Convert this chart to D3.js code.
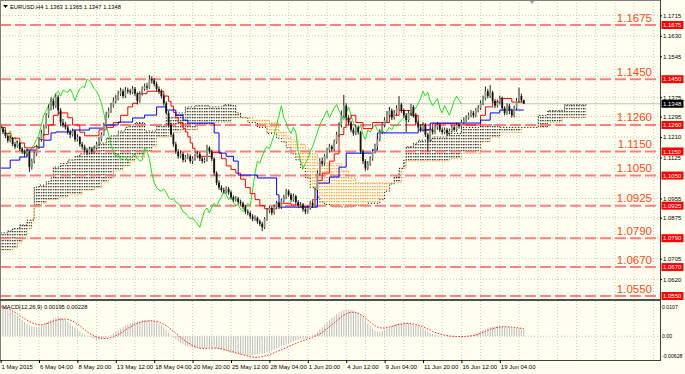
<!DOCTYPE html>
<html>
<head>
<meta charset="utf-8">
<script src="https://cdn.jsdelivr.net/npm/d3@7"></script>
<style>
  body { margin: 0; background: #fffff0; }
  svg text { font-family: "Liberation Sans", Arial, sans-serif; }
</style>
</head>
<body>
<svg id="chart" width="685" height="374"></svg>
<script>
// EURUSD H4, 1 May 2015 12:00 -> 22 Jun 2015 20:00. Prices in 1e-4 units.
const firstBar = 3; // bar index of candles[0]

// [open, high, low, close]
const candles = [
  [11255,11268,11236,11245],[11245,11252,11222,11230],[11230,11238,11205,11215],[11215,11220,11186,11195],
  [11195,11214,11188,11205],[11205,11210,11172,11180],[11180,11190,11160,11170],[11170,11195,11165,11185],
  [11185,11190,11152,11160],[11160,11168,11140,11150],[11150,11158,11128,11140],[11140,11162,11132,11150],
  [11150,11155,11065,11085],[11085,11120,11075,11110],[11110,11150,11100,11140],[11140,11178,11132,11170],
  [11170,11210,11160,11200],[11200,11240,11190,11225],[11225,11262,11215,11250],[11250,11310,11245,11300],
  [11300,11345,11290,11330],[11330,11375,11320,11360],[11360,11370,11325,11340],[11340,11390,11330,11375],
  [11375,11385,11305,11320],[11320,11330,11255,11270],[11270,11285,11250,11260],[11260,11272,11240,11250],
  [11250,11258,11220,11230],[11230,11240,11205,11220],[11220,11245,11212,11235],[11235,11240,11190,11200],
  [11200,11222,11192,11210],[11210,11215,11170,11180],[11180,11190,11158,11170],[11170,11178,11145,11155],
  [11155,11165,11135,11145],[11145,11170,11138,11160],[11160,11168,11140,11150],[11150,11175,11142,11165],
  [11165,11190,11158,11180],[11180,11210,11172,11200],[11200,11230,11192,11220],[11220,11270,11215,11260],
  [11260,11315,11252,11300],[11300,11332,11290,11320],[11320,11352,11310,11340],[11340,11375,11332,11360],
  [11360,11385,11350,11370],[11370,11402,11362,11390],[11390,11415,11380,11400],[11400,11410,11370,11380],
  [11380,11418,11372,11405],[11405,11415,11390,11400],[11400,11410,11385,11395],[11395,11422,11388,11410],
  [11410,11418,11380,11390],[11390,11395,11345,11360],[11360,11400,11352,11390],[11390,11420,11382,11410],
  [11410,11432,11402,11420],[11420,11435,11405,11415],[11415,11467,11410,11450],[11450,11462,11432,11445],
  [11445,11455,11420,11430],[11430,11440,11400,11410],[11410,11420,11388,11400],[11400,11408,11370,11380],
  [11380,11388,11340,11350],[11350,11358,11300,11310],[11310,11318,11250,11260],[11260,11270,11210,11220],
  [11220,11228,11170,11180],[11180,11190,11140,11150],[11150,11160,11120,11130],[11130,11155,11122,11140],
  [11140,11148,11105,11115],[11115,11135,11105,11125],[11125,11142,11118,11130],[11130,11138,11100,11110],
  [11110,11130,11098,11120],[11120,11140,11112,11130],[11130,11152,11122,11140],[11140,11148,11110,11120],
  [11120,11128,11100,11110],[11110,11125,11102,11115],[11115,11178,11108,11165],[11165,11172,11140,11150],
  [11150,11158,11110,11120],[11120,11125,11050,11060],[11060,11068,11010,11020],[11020,11030,10990,11000],
  [11000,11010,10980,10990],[10990,11000,10975,10985],[10985,11005,10975,10995],[10995,11002,10970,10980],
  [10980,10988,10950,10960],[10960,10968,10940,10950],[10950,10965,10942,10955],[10955,10962,10930,10940],
  [10940,10950,10925,10935],[10935,10942,10910,10920],[10920,10928,10890,10900],[10900,10910,10885,10895],
  [10895,10902,10870,10880],[10880,10890,10860,10870],[10870,10885,10862,10875],[10875,10880,10850,10860],
  [10860,10868,10840,10850],[10850,10858,10819,10835],[10835,10878,10828,10870],[10870,10915,10862,10905],
  [10905,10925,10895,10915],[10915,10922,10885,10895],[10895,10930,10888,10920],[10920,10945,10912,10935],
  [10935,10942,10910,10920],[10920,10955,10912,10945],[10945,10970,10938,10960],[10960,10995,10952,10985],
  [10985,10992,10962,10970],[10970,10978,10940,10950],[10950,10975,10942,10965],[10965,10970,10930,10940],
  [10940,10948,10915,10925],[10925,10940,10918,10930],[10930,10936,10900,10910],[10910,10918,10890,10900],
  [10900,10925,10892,10915],[10915,10945,10908,10935],[10935,10942,10915,10925],[10925,11000,10920,10990],
  [10990,11072,10982,11060],[11060,11122,11050,11110],[11110,11125,11088,11100],[11100,11140,11092,11130],
  [11130,11165,11120,11155],[11155,11182,11145,11170],[11170,11178,11150,11160],[11160,11200,11152,11190],
  [11190,11232,11182,11220],[11220,11272,11210,11260],[11260,11320,11250,11300],[11300,11385,11290,11340],
  [11340,11350,11280,11290],[11290,11300,11258,11270],[11270,11278,11230,11240],[11240,11250,11215,11225],
  [11225,11260,11218,11250],[11250,11258,11220,11230],[11230,11235,11140,11150],[11150,11158,11098,11110],
  [11110,11118,11070,11080],[11080,11110,11072,11100],[11100,11130,11090,11120],[11120,11160,11112,11150],
  [11150,11182,11142,11170],[11170,11212,11162,11200],[11200,11242,11192,11230],[11230,11272,11222,11260],
  [11260,11292,11250,11280],[11280,11318,11270,11300],[11300,11335,11292,11320],[11320,11328,11280,11290],
  [11290,11322,11282,11310],[11310,11342,11300,11330],[11330,11380,11322,11345],[11345,11352,11310,11320],
  [11320,11328,11290,11300],[11300,11310,11230,11280],[11280,11322,11272,11310],[11310,11348,11300,11335],
  [11335,11342,11290,11300],[11300,11310,11260,11270],[11270,11278,11240,11250],[11250,11262,11230,11240],
  [11240,11272,11232,11260],[11260,11268,11210,11220],[11220,11228,11150,11200],[11200,11250,11190,11240],
  [11240,11250,11220,11230],[11230,11262,11222,11250],[11250,11272,11240,11260],[11260,11268,11230,11240],
  [11240,11250,11220,11230],[11230,11250,11222,11240],[11240,11248,11215,11225],[11225,11245,11218,11235],
  [11235,11260,11228,11250],[11250,11258,11232,11240],[11240,11270,11232,11260],[11260,11268,11245,11255],
  [11255,11282,11248,11270],[11270,11292,11262,11280],[11280,11300,11272,11290],[11290,11312,11282,11300],
  [11300,11322,11292,11310],[11310,11318,11290,11300],[11300,11330,11292,11320],[11320,11342,11312,11330],
  [11330,11362,11322,11350],[11350,11382,11342,11370],[11370,11420,11362,11400],[11400,11410,11370,11380],
  [11380,11425,11372,11395],[11395,11402,11350,11360],[11360,11368,11330,11340],[11340,11365,11332,11355],
  [11355,11382,11345,11370],[11370,11378,11320,11330],[11330,11338,11300,11310],[11310,11350,11302,11340],
  [11340,11348,11305,11320],[11320,11328,11290,11300],[11300,11340,11292,11330],[11330,11372,11322,11360],
  [11360,11415,11352,11380],[11380,11390,11355,11363],[11363,11365,11347,11348]
];

// Ichimoku lines: [bar index, value] steps
const tenkan = [[3,11250],[5,11225],[7,11205],[11,11185],[13,11165],[17,11170],[19,11200],[21,11220],[23,11260],[25,11300],
  [27,11310],[31,11290],[33,11260],[36,11230],[38,11215],[44,11240],[47,11250],[50,11270],[53,11300],[56,11335],[58,11350],
  [60,11390],[64,11400],[71,11380],[73,11358],[74,11338],[75,11312],[76,11290],[77,11270],[79,11246],[80,11231],[81,11211],
  [82,11185],[83,11163],[84,11144],[85,11130],[91,11145],[95,11120],[97,11090],[99,11075],[101,11060],[103,11035],[105,11000],
  [107,10975],[109,10950],[111,10925],[113,10912],[118,10935],[124,10928],[128,10920],[133,10950],[135,11030],[137,11060],
  [140,11110],[142,11140],[144,11220],[146,11250],[147,11285],[149,11300],[151,11270],[154,11245],[158,11270],[165,11300],
  [169,11320],[174,11300],[177,11260],[180,11240],[183,11265],[194,11260],[203,11300],[205,11335],[208,11355],[211,11370],
  [216,11355],[221,11355]];
const kijun = [[3,11081],[7,11114],[11,11127],[14,11156],[18,11168],[21,11197],[24,11227],[26,11231],[33,11239],[40,11247],
  [46,11260],[52,11272],[58,11289],[63,11301],[68,11335],[72,11322],[76,11300],[79,11280],[81,11268],[92,11227],[94,11143],
  [97,11130],[100,11110],[102,11052],[110,11040],[118,10970],[119,10919],[135,11019],[140,11044],[144,11085],[147,11143],
  [158,11156],[160,11227],[177,11239],[182,11268],[203,11280],[207,11310],[211,11322],[221,11322]];
const spanA = [[3,10812],[6,10820],[8,10830],[11,10845],[14,10865],[17,11002],[19,11010],[22,11025],[24,11040],[25,11085],
  [28,11100],[31,11115],[34,11130],[36,11140],[40,11165],[44,11185],[47,11205],[49,11215],[52,11235],[55,11250],[56,11260],
  [59,11270],[63,11235],[68,11260],[72,11290],[76,11310],[80,11335],[84,11340],[90,11335],[96,11345],[99,11340],[101,11310],
  [103,11290],[106,11270],[110,11250],[114,11225],[118,11205],[120,11190],[122,11165],[124,11140],[126,11115],[128,11080],
  [130,11040],[132,11000],[134,10960],[136,10940],[138,10930],[141,10920],[150,10925],[156,10935],[161,10950],[163,10985],
  [165,11015],[167,11044],[169,11080],[171,11114],[172,11170],[175,11185],[177,11197],[183,11210],[189,11225],[195,11250],
  [203,11260],[211,11250],[227,11300],[231,11320],[238,11345],[247,11345]];
const spanB = [[3,10741],[8,10750],[10,10770],[12,10800],[14,10830],[16,10870],[17,10920],[20,10935],[22,10950],[27,10960],
  [31,10970],[37,10990],[42,11000],[45,11020],[48,11040],[50,11070],[54,11090],[57,11110],[59,11130],[63,11150],[66,11170],
  [68,11210],[73,11230],[78,11240],[85,11260],[92,11270],[99,11290],[108,11280],[115,11270],[119,11230],[122,11210],
  [124,11200],[127,11180],[130,11160],[133,11140],[135,11100],[145,11070],[148,11040],[151,11020],[170,11080],[172,11110],
  [190,11120],[195,11143],[203,11190],[207,11210],[211,11230],[220,11250],[231,11270],[237,11290],[247,11290]];

// MACD(12,26,9), 1e-4 units, one value per candle
const macdMain = [89,87,84,82,79,74,68,62,55,49,43,38,33,30,28,28,29,32,36,41,46,50,54,57,58,57,54,49,44,38,32,26,20,14,
  9,5,1,-2,-5,-8,-10,-11,-10,-8,-5,-1,3,8,13,18,23,28,32,36,39,42,44,46,47,48,49,49,48,48,46,43,39,34,27,19,11,3,
  -4,-10,-16,-21,-25,-28,-31,-33,-35,-36,-37,-37,-37,-36,-35,-34,-34,-35,-37,-39,-41,-43,-45,-47,-49,
  -51,-52,-54,-55,-56,-57,-58,-58,-57,-56,-55,-54,-53,-52,-49,-46,-43,-40,-37,-34,-31,-28,-25,-22,-19,
  -16,-13,-11,-9,-8,-6,-4,-1,3,8,14,21,28,35,42,49,55,61,67,72,76,79,81,81,80,78,75,72,66,58,48,38,30,
  22,17,14,14,16,19,23,27,31,34,37,39,40,40,40,39,37,35,33,30,27,23,18,14,10,7,5,3,
  2,1,0,-1,-2,-2,-3,-3,-2,-2,-1,0,2,4,6,9,12,15,18,21,24,27,29,30,31,31,30,29,28,27,26,25,24,23,21,19.5];
const macdSignal = [90,88,86,84,81,77,73,68,63,58,53,49,45,41,38,36,35,35,36,38,40,43,46,48,50,51,52,52,51,49,46,42,37,32,
  26,20,14,9,5,1,-2,-4,-6,-7,-7,-6,-4,-2,1,5,9,14,19,24,28,32,36,39,42,44,45,46,47,47,46,45,43,40,36,32,27,21,
  15,9,3,-3,-9,-14,-19,-24,-28,-31,-34,-36,-37,-37,-37,-36,-36,-36,-36,-37,-38,-40,-42,-44,-46,
  -48,-50,-52,-54,-56,-58,-60,-62,-63,-64,-64,-63,-62,-60,-58,-56,-53,-50,-47,-44,-41,-38,-35,-31,-28,
  -25,-22,-19,-16,-13,-11,-8,-6,-3,0,3,7,12,17,23,29,35,41,47,53,59,64,68,71,73,73,72,70,66,61,55,49,43,
  37,32,28,26,25,25,26,28,30,32,34,36,37,38,39,39,38,37,35,33,31,28,25,22,19,15,12,9,
  7,5,3,2,1,0,0,-1,-1,-1,-1,0,0,1,2,4,6,9,12,15,18,21,23,25,27,28,29,29,29,28,28,27,26,25,24,22.8];

const dateBars = [3,19,35,51,67,83,99,115,131,147,163,179,195,211];
const dateLabels = ["1 May 2015","6 May 04:00","8 May 20:00","13 May 12:00","18 May 04:00","20 May 20:00","25 May 12:00",
  "28 May 04:00","1 Jun 20:00","4 Jun 12:00","9 Jun 04:00","11 Jun 20:00","16 Jun 12:00","19 Jun 04:00"];
const gridPrices = [1.1715,1.1630,1.1545,1.1460,1.1375,1.1295,1.1210,1.1125,1.1040,1.0955,1.0875,1.0790,1.0705,1.0620,1.0535];
const priceTicks = [1.1715,1.1630,1.1545,1.1375,1.1295,1.1210,1.1125,1.0955,1.0875,1.0705,1.0620]; // the rest sit under the red tags
const levels = [1.1675,1.1450,1.1260,1.1150,1.1050,1.0925,1.0790,1.0670,1.0550];
const bid = 1.1348;

const svg = d3.select("#chart");
const W = 685, H = 374;
const plotR = 660, priceBottom = 299, macdTop = 301, macdBottom = 360;

svg.append("rect").attr("width", W).attr("height", H).attr("fill", "#fffff0");

const x = d3.scaleLinear().domain([3, 278]).range([0.6, 660.6]);
const y = d3.scaleLinear().domain([1.0550, 1.1675]).range([296, 25]);
const ym = d3.scaleLinear().domain([-63, 107]).range([357, 301]);
const py = v => y(v / 10000);
const stepAt = (steps, b) => { let v = steps[0][1]; for (const s of steps) { if (s[0] <= b) v = s[1]; else break; } return v; };

const defs = svg.append("defs");
defs.append("clipPath").attr("id", "priceClip").append("rect")
  .attr("x", 0).attr("y", 0).attr("width", plotR).attr("height", priceBottom);
defs.append("clipPath").attr("id", "macdClip").append("rect")
  .attr("x", 0).attr("y", macdTop).attr("width", plotR).attr("height", macdBottom - macdTop);
[["dotsBlack", "#000"], ["dotsOrange", "#ff8a10"]].forEach(([id, c]) => {
  const p = defs.append("pattern").attr("id", id).attr("patternUnits", "userSpaceOnUse")
    .attr("width", 2.4).attr("height", 3);
  p.append("rect").attr("width", 1.2).attr("height", 1.3).attr("fill", c);
});

// grid
const grid = svg.append("g").attr("stroke", "#c8c8c8").attr("stroke-dasharray", "1,2");
for (let b = 3; b <= 278; b += 8) {
  grid.append("line").attr("x1", x(b)).attr("x2", x(b)).attr("y1", 0).attr("y2", priceBottom);
  grid.append("line").attr("x1", x(b)).attr("x2", x(b)).attr("y1", macdTop).attr("y2", macdBottom);
}
grid.selectAll(".hg").data(gridPrices).enter().append("line")
  .attr("x1", 0).attr("x2", plotR).attr("y1", d => y(d)).attr("y2", d => y(d));
grid.append("line").attr("x1", 0).attr("x2", plotR).attr("y1", ym(0)).attr("y2", ym(0));

const price = svg.append("g").attr("clip-path", "url(#priceClip)");

// cloud
const cloudBars = d3.range(3, 247);
price.append("g").selectAll("rect").data(cloudBars).enter().append("rect")
  .attr("x", d => x(d)).attr("width", d => x(d + 1) - x(d))
  .attr("y", d => Math.min(py(stepAt(spanA, d)), py(stepAt(spanB, d))))
  .attr("height", d => Math.abs(py(stepAt(spanA, d)) - py(stepAt(spanB, d))))
  .attr("fill", d => stepAt(spanA, d) >= stepAt(spanB, d) ? "url(#dotsBlack)" : "url(#dotsOrange)");

const stepLine = d3.line().x(d => x(d[0])).y(d => py(d[1])).curve(d3.curveStepAfter);
price.append("path").attr("d", stepLine(spanA)).attr("fill", "none")
  .attr("stroke", "#000").attr("stroke-dasharray", "1,2");
price.append("path").attr("d", stepLine(spanB)).attr("fill", "none")
  .attr("stroke", "#ff8a10").attr("stroke-dasharray", "1,2");

// level lines
price.selectAll(".lvl").data(levels).enter().append("line")
  .attr("x1", 0).attr("x2", plotR).attr("y1", d => y(d)).attr("y2", d => y(d))
  .attr("stroke", "#ff7f7f").attr("stroke-width", 2).attr("stroke-dasharray", "11,4");

// bid line
price.append("line").attr("x1", 0).attr("x2", plotR).attr("y1", y(bid)).attr("y2", y(bid))
  .attr("stroke", "#c0c0c0");

// chikou, tenkan, kijun
price.append("path").datum(candles)
  .attr("d", d3.line().x((d, k) => x(firstBar + k - 26)).y(d => py(d[3])))
  .attr("fill", "none").attr("stroke", "#22e022");
price.append("path").attr("d", stepLine(tenkan)).attr("fill", "none").attr("stroke", "#ff0000");
price.append("path").attr("d", stepLine(kijun)).attr("fill", "none").attr("stroke", "#0000ff");

// candles
const cg = price.append("g").selectAll("g").data(candles).enter().append("g");
cg.append("line")
  .attr("x1", (d, k) => x(firstBar + k)).attr("x2", (d, k) => x(firstBar + k))
  .attr("y1", d => py(d[1])).attr("y2", d => py(d[2])).attr("stroke", "#202020");
cg.append("rect")
  .attr("x", (d, k) => x(firstBar + k) - 0.9).attr("width", 1.8)
  .attr("y", d => py(Math.max(d[0], d[3])))
  .attr("height", d => Math.max(0.8, Math.abs(py(d[0]) - py(d[3]))))
  .attr("fill", d => d[3] >= d[0] ? "#8e9684" : "#111");

// level captions
svg.selectAll(".lvlText").data(levels).enter().append("text")
  .attr("x", 652).attr("y", d => y(d) - 3.5).attr("text-anchor", "end")
  .attr("font-size", 11.5).attr("fill", "#ff4a1a").text(d => d.toFixed(4));

// MACD
const macd = svg.append("g").attr("clip-path", "url(#macdClip)");
macd.selectAll("line").data(macdMain).enter().append("line")
  .attr("x1", (d, k) => x(firstBar + k)).attr("x2", (d, k) => x(firstBar + k))
  .attr("y1", ym(0)).attr("y2", d => ym(d)).attr("stroke", "#bdbdbd");
macd.append("path").datum(macdSignal)
  .attr("d", d3.line().x((d, k) => x(firstBar + k)).y(d => ym(d)))
  .attr("fill", "none").attr("stroke", "#ff2020").attr("stroke-dasharray", "1.5,1.5");

// frames
const frame = svg.append("g").attr("fill", "none");
frame.append("line").attr("x1", 0).attr("x2", plotR).attr("y1", 0.5).attr("y2", 0.5).attr("stroke", "#808080");
frame.append("line").attr("x1", 0.5).attr("x2", 0.5).attr("y1", 0).attr("y2", macdBottom).attr("stroke", "#808080");
frame.append("line").attr("x1", 0).attr("x2", plotR).attr("y1", 300).attr("y2", 300).attr("stroke", "#505050").attr("stroke-width", 2);
frame.append("line").attr("x1", 0).attr("x2", plotR + 1).attr("y1", macdBottom + 0.5).attr("y2", macdBottom + 0.5).attr("stroke", "#404040");
frame.append("line").attr("x1", plotR + 0.5).attr("x2", plotR + 0.5).attr("y1", 0).attr("y2", macdBottom + 1).attr("stroke", "#404040");

// price axis
const pa = svg.append("g").attr("transform", `translate(${plotR},0)`)
  .call(d3.axisRight(y).tickValues(priceTicks).tickFormat(d3.format(".4f")).tickSize(2).tickPadding(1));
pa.select(".domain").remove();
pa.selectAll("text").attr("font-size", 6).attr("font-family", "Liberation Sans, Arial, sans-serif").attr("fill", "#000");
pa.selectAll("line").attr("stroke", "#000");

const boxes = svg.append("g");
levels.forEach(v => {
  boxes.append("rect").attr("x", plotR + 1.5).attr("y", y(v) - 4).attr("width", 22).attr("height", 8).attr("fill", "#ff0000");
  boxes.append("text").attr("x", plotR + 3).attr("y", y(v) + 2.2).attr("font-size", 6).attr("fill", "#fff").text(v.toFixed(4));
});
boxes.append("rect").attr("x", plotR + 1.5).attr("y", y(bid) - 4).attr("width", 22).attr("height", 8).attr("fill", "#000");
boxes.append("text").attr("x", plotR + 3).attr("y", y(bid) + 2.2).attr("font-size", 6).attr("fill", "#fff").text(bid.toFixed(4));

// MACD axis
const macdTicks = [["0.0107", 306.5], ["0.00", ym(0)], ["-0.00628", 356]];
macdTicks.forEach(([t, yy]) => {
  svg.append("text").attr("x", plotR + 2).attr("y", yy + 2).attr("font-size", 5.2).text(t);
});

// date axis
const da = svg.append("g").attr("transform", `translate(0,${macdBottom})`)
  .call(d3.axisBottom(x).tickValues(dateBars).tickFormat((d, i) => dateLabels[i]).tickSize(3).tickPadding(2));
da.select(".domain").remove();
da.selectAll("text").attr("text-anchor", "start").attr("dx", 0.5).attr("font-size", 6)
  .attr("font-family", "Liberation Sans, Arial, sans-serif").attr("fill", "#000");
da.selectAll("line").attr("stroke", "#000");

// titles
svg.append("path").attr("d", "M3,5 L8,5 L5.5,8 Z").attr("fill", "#000");
svg.append("text").attr("x", 10).attr("y", 9).attr("font-size", 5.8).text("EURUSD,H4  1.1363 1.1365 1.1347 1.1348");
svg.append("text").attr("x", 2).attr("y", 309).attr("font-size", 5.8).text("MACD(12,26,9) 0.00195 0.00228");
svg.append("path").attr("d", `M${x(223) + 1},1 L${x(223) + 6},1 L${x(223) + 3.5},4 Z`).attr("fill", "#a0a0a0");
</script>
</body>
</html>
